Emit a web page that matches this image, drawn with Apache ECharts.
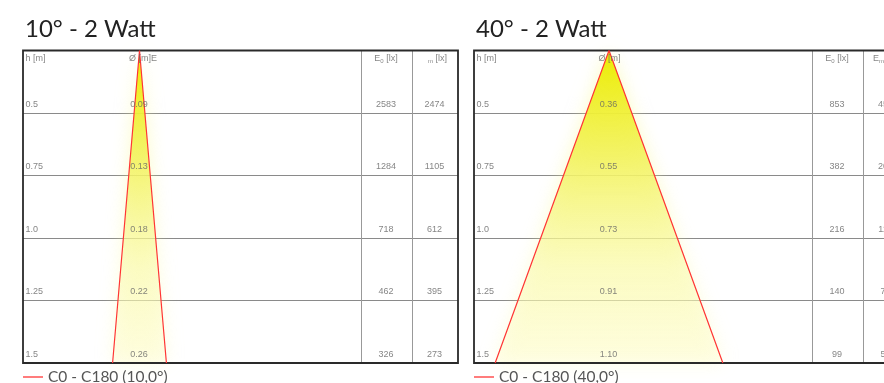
<!DOCTYPE html>
<html><head><meta charset="utf-8">
<script src="https://cdn.jsdelivr.net/npm/echarts@6/dist/echarts.min.js"></script>
<style>html,body{margin:0;padding:0;background:#fff}#c{width:884px;height:383px}</style>
</head><body><div id="c"></div>
<script>
// ---- data ----
const heights = ['0.5', '0.75', '1.0', '1.25', '1.5'];
const titles = ['10° - 2 Watt', '40° - 2 Watt'];
const legendNames = ['C0 - C180 (10,0°)', 'C0 - C180 (40,0°)'];
const diam10 = ['0.09', '0.13', '0.18', '0.22', '0.26'];
const e0_10 = [2583, 1284, 718, 462, 326];
const em_10 = [2474, 1105, 612, 395, 273];
const diam40 = ['0.36', '0.55', '0.73', '0.91', '1.10'];
const e0_40 = [853, 382, 216, 140, 99];
const em_40 = [452, 201, 113, 72, 50]; // partly cut off in the picture, estimated

// ---- layout ----
const pxPerM = 207;
const frameTop = 50.5, frameH = 312.5, mainW = 338, e0W = 51, emW = 46;
const charts = [
  { left: 23, apex: 116.5, diam: diam10, e0: e0_10, em: em_10, dHdr: 'Ø [m]E', showEmE: false },
  { left: 474, apex: 135, diam: diam40, e0: e0_40, em: em_40, dHdr: 'Ø [m]', showEmE: true }
];
const txt = { fontFamily: 'Liberation Sans, Arial', fontSize: 9, color: '#666' };
const rowLineColor = '#8a8a8a';

const option = {
  animation: false,
  title: [], legend: [], grid: [], xAxis: [], yAxis: [], series: []
};

charts.forEach((ch, c) => {
  const g = 4 * c, y = 5 * c;
  const xMin = -ch.apex / pxPerM, xMax = (mainW - ch.apex) / pxPerM;
  const hMax = parseFloat(heights[heights.length - 1]);
  const halfW = parseFloat(ch.diam[ch.diam.length - 1]) / 2;
  const rows = heights.length;

  option.title.push({
    text: titles[c], left: ch.left - 3, top: 12,
    textStyle: { fontFamily: 'Lato', fontSize: 24, fontWeight: 'normal', color: '#222' }
  });
  option.legend.push({
    data: [{ name: legendNames[c], icon: 'rect' }], left: ch.left, top: 369, padding: 0,
    itemWidth: 20, itemHeight: 1.3,
    textStyle: { fontFamily: 'Lato', fontSize: 15.5, color: '#555' }
  });

  const base = { outerBoundsMode: 'none', containLabel: false, top: frameTop, height: frameH };
  option.grid.push(Object.assign({}, base, { left: ch.left, width: mainW + e0W + emW, show: true, borderColor: '#2a2a2a', borderWidth: 1.8, backgroundColor: 'transparent', z: 3 }));
  option.grid.push(Object.assign({}, base, { left: ch.left, width: mainW }));
  option.grid.push(Object.assign({}, base, { left: ch.left + mainW, width: e0W }));
  option.grid.push(Object.assign({}, base, { left: ch.left + mainW + e0W, width: emW }));

  option.xAxis.push({ gridIndex: g, type: 'value', min: 0, max: 1, show: false });
  option.xAxis.push({ gridIndex: g + 1, type: 'value', min: xMin, max: xMax, show: false });
  option.xAxis.push({ gridIndex: g + 2, type: 'value', min: 0, max: 1, show: false });
  option.xAxis.push({ gridIndex: g + 3, type: 'value', min: 0, max: 1, show: false });

  const rowAxis = (gi, showLine) => ({
    gridIndex: gi, type: 'value', min: 0, max: rows, interval: 1, inverse: true,
    axisLabel: { show: false }, axisTick: { show: false },
    axisLine: { show: showLine, onZero: false, lineStyle: { color: '#999', width: 1 } },
    splitLine: { show: false }
  });
  const frameY = rowAxis(g, false);
  frameY.splitLine = { show: true, showMinLine: false, showMaxLine: false, lineStyle: { color: rowLineColor, width: 1 } };
  option.yAxis.push(frameY);
  option.yAxis.push(Object.assign(rowAxis(g + 1, false), { show: false }));
  option.yAxis.push({ gridIndex: g + 1, type: 'value', min: 0, max: hMax, inverse: true, show: false });
  option.yAxis.push(rowAxis(g + 2, true));
  option.yAxis.push(rowAxis(g + 3, true));

  // cone fill
  option.series.push({
    type: 'custom', xAxisIndex: g + 1, yAxisIndex: y + 2, silent: true, z: 1,
    data: [[halfW, hMax]],
    renderItem: (params, api) => {
      const hw = api.value(0), h = api.value(1);
      const a = api.coord([0, 0]), l = api.coord([-hw, h]), r = api.coord([hw, h]);
      return {
        type: 'polygon', shape: { points: [l, a, r] },
        style: {
          fill: new echarts.graphic.LinearGradient(0, 0, 0, 1, [
            { offset: 0, color: 'rgba(236,236,0,1)' },
            { offset: 0.35, color: 'rgba(242,242,90,0.85)' },
            { offset: 0.7, color: 'rgba(250,250,170,0.55)' },
            { offset: 1, color: 'rgba(255,253,215,0.45)' }
          ]),
          shadowBlur: 18, shadowColor: 'rgba(248,248,140,0.55)'
        }
      };
    }
  });
  // cone outline
  option.series.push({
    type: 'line', name: legendNames[c], xAxisIndex: g + 1, yAxisIndex: y + 2, z: 4,
    symbol: 'none', silent: true,
    lineStyle: { color: '#ff3535', width: 1.2 }, itemStyle: { color: '#ff3535' },
    data: [[-halfW, hMax], [0, 0], [halfW, hMax]]
  });

  const lbl = (pos, align, formatter, extra) => Object.assign({ show: true, position: pos, align, verticalAlign: 'middle', formatter }, txt, extra || {});
  const scatter = (xi, yi, data) => ({
    type: 'scatter', xAxisIndex: xi, yAxisIndex: yi, symbolSize: 1, silent: true, z: 5,
    itemStyle: { color: 'transparent' }, data
  });
  // h column
  const hData = [{ value: [xMin, 0], label: lbl([3, 9], 'left', 'h [m]') }]
    .concat(heights.map((h, i) => ({ value: [xMin, i + 1], label: lbl([3, -8], 'left', h) })));
  option.series.push(scatter(g + 1, y + 1, hData));
  // diameter
  const dData = [{ value: [0, 0], label: lbl([-10, 9], 'left', ch.dHdr) }]
    .concat(ch.diam.map((d, i) => ({ value: [0, i + 1], label: lbl([0, -8], 'center', d) })));
  option.series.push(scatter(g + 1, y + 1, dData));
  // E0
  const rich = {
    n: { fontFamily: 'Liberation Sans, Arial', fontSize: 9, color: '#666' },
    s: { fontFamily: 'Liberation Sans, Arial', fontSize: 6, color: '#666', padding: [5, 0, 0, 0] },
    h: { fontFamily: 'Liberation Sans, Arial', fontSize: 9, color: 'transparent' }
  };
  const e0Data = [{ value: [0.5, 0], label: lbl([0, 9], 'center', '{n|E}{s|0}{n| [lx]}', { rich }) }]
    .concat(ch.e0.map((v, i) => ({ value: [0.5, i + 1], label: lbl([0, -8], 'center', String(v)) })));
  option.series.push(scatter(g + 2, y + 3, e0Data));
  const emHdr = (ch.showEmE ? '{n|E}' : '{h|E}') + '{s|m}{n| [lx]}';
  const emData = [{ value: [0.5, 0], label: lbl([0, 9], 'center', emHdr, { rich }) }]
    .concat(ch.em.map((v, i) => ({ value: [0.5, i + 1], label: lbl([0, -8], 'center', String(v)) })));
  option.series.push(scatter(g + 3, y + 4, emData));
});

const chart = echarts.init(document.getElementById('c'), null, { renderer: 'canvas' });
chart.setOption(option);
</script>
</body></html>
